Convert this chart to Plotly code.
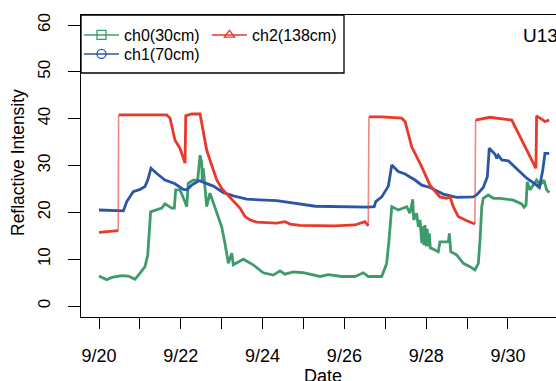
import pandas as pd
import plotly.graph_objects as go

# ---- data (hours since 2015-09-20 00:00, value) ----
ch0_hours = [0, 1.6, 4.5, 7.5, 13.3, 17.2, 21.1, 24.1, 27.0, 28.6, 29.5, 30.3, 36.8, 38.7, 42.7, 44.2,
             45.0, 47.5, 50.1, 51.5, 52.4, 55.3, 57.9, 59.3, 60.3, 60.6, 61.2, 62.2, 63.2, 65.1, 69.1,
             72.0, 73.9, 74.9, 75.9, 77.9, 78.8, 84.7, 90.5, 96.4, 100.3, 102.3, 106.2, 109.1, 114.0,
             119.9, 129.7, 134.6, 142.4, 150.2, 155.1, 158.0, 165.9, 168.8, 170.2, 171.8, 175.6, 180.6,
             182.5, 184.1, 184.7, 186.4, 187.4, 188.4, 189.4, 190.0, 190.6, 191.3, 192.0, 192.6, 193.2,
             193.8, 194.4, 195.2, 199.1, 200.1, 205.0, 205.6, 206.4, 209.9, 213.8, 217.7, 220.6, 222.6,
             223.6, 224.6, 225.5, 228.4, 231.4, 235.3, 243.1, 248.0, 249.4, 250.6, 251.3, 252.9, 256.8,
             258.8, 261.1, 262.7, 264.2]
ch0_values = [6.4, 6.1, 5.6, 6.1, 6.5, 6.4, 5.7, 7.0, 8.4, 10.9, 15.5, 20.1, 20.9, 21.8, 20.9, 20.9,
              24.8, 24.8, 22.6, 21.2, 26.2, 26.9, 26.9, 32.2, 30.5, 26.9, 29.4, 24.8, 21.2, 24.1, 19.8,
              16.9, 13.4, 10.9, 9.1, 11.3, 8.8, 10.0, 8.8, 7.1, 6.8, 6.6, 7.5, 6.8, 7.3,
              7.1, 6.3, 6.7, 6.3, 6.3, 7.1, 6.3, 6.3, 9.1, 14.1, 21.2, 20.5, 21.2,
              19.8, 22.8, 18.4, 19.8, 16.9, 18.4, 13.4, 17.0, 13.0, 17.3, 12.8, 16.5, 12.7,
              15.5, 12.4, 12.3, 11.6, 13.7, 13.7, 15.5, 11.6, 10.9, 9.1, 8.4, 7.7, 9.1,
              14.1, 21.2, 23.0, 23.7, 23.0, 23.0, 22.6, 21.8, 21.1, 21.6, 26.5, 24.8, 26.9,
              25.8, 26.9, 24.8, 24.2]

ch1_hours = [0, 14.3, 16.3, 20.1, 24.1, 27.0, 28.6, 30.5, 33.9, 38.7, 44.6, 49.5, 51.5, 54.4, 58.3,
             59.3, 67.1, 73.0, 78.8, 86.7, 104.3, 118.0, 127.0, 158.0, 161.5, 162.4, 165.9, 169.8,
             171.8, 175.6, 179.6, 185.4, 189.4, 194.2, 202.0, 209.9, 219.6, 221.6, 225.5, 227.9,
             229.0, 232.4, 233.4, 234.3, 236.3, 240.2, 245.1, 251.0, 256.8, 258.4, 260.4, 261.7, 264.2]
ch1_values = [20.5, 20.3, 22.3, 24.4, 24.9, 25.5, 26.9, 29.4, 28.3, 26.9, 26.1, 24.9, 24.8, 25.8, 26.7,
              26.7, 25.6, 24.2, 23.5, 22.8, 22.5, 21.8, 21.3, 21.1, 21.2, 22.3, 23.3, 25.6,
              30.1, 28.7, 28.2, 26.9, 25.8, 25.3, 23.9, 23.2, 23.3, 23.7, 25.3, 27.6,
              33.7, 32.4, 31.5, 32.2, 31.2, 31.0, 29.4, 27.3, 25.8, 25.3, 29.0, 32.6, 32.6]

ch2_hours = [0, 11.3, 11.5, 21.1, 39.7, 41.7, 44.6, 47.5, 50.5, 50.9, 54.4, 59.3, 61.2, 63.2, 66.1,
             69.1, 72.0, 74.9, 78.8, 82.7, 85.7, 88.6, 92.5, 98.4, 104.3, 109.1, 112.1, 118.0, 129.7,
             138.5, 150.2, 156.1, 158.0, 158.4, 165.9, 177.6, 179.6, 183.5, 189.4, 194.2, 197.2,
             200.0, 204.0, 206.0, 207.9, 210.8, 215.8, 220.6, 221.0, 229.4, 242.2, 246.0, 251.0,
             256.4, 256.8, 258.8, 261.7, 264.2]
ch2_values = [15.7, 16.1, 40.8, 40.8, 40.8, 40.1, 35.4, 33.7, 30.5, 40.6, 41.0, 41.0, 37.6, 33.3, 30.1,
              26.9, 25.1, 23.9, 22.3, 20.9, 19.1, 18.4, 17.9, 17.8, 17.7, 18.0, 17.5, 17.2, 17.1,
              17.1, 17.3, 18.0, 17.1, 40.4, 40.4, 40.1, 39.4, 34.0, 29.7, 25.8, 24.4,
              23.3, 23.0, 23.3, 21.2, 19.1, 18.2, 17.5, 39.7, 40.3, 39.7, 36.9, 33.3,
              29.4, 40.6, 40.1, 39.4, 39.7]

series_names = ["ch0(30cm)", "ch1(70cm)", "ch2(138cm)"]
series_colors = ["#3E9C6C", "#2B55A6", "#E8392B"]
series_jump_colors = ["rgba(62,156,108,0.55)", "rgba(43,85,166,0.55)", "rgba(232,57,43,0.6)"]
series_symbols = ["square-open", "circle-open", "triangle-up-open"]
tick_dates = pd.date_range("2015-09-20", "2015-09-30", freq="D")
tick_labels = [d.strftime("%-m/%-d") if i % 2 == 0 else "" for i, d in enumerate(tick_dates)]

base = pd.Timestamp("2015-09-20")


def to_time(hours):
    return [base + pd.Timedelta(hours=h) for h in hours]


fig = go.Figure()
data = [(ch0_hours, ch0_values), (ch1_hours, ch1_values), (ch2_hours, ch2_values)]
for (h, v), name, col, jcol in zip(data, series_names, series_colors, series_jump_colors):
    t = to_time(h)
    main_x, main_y, jump_x, jump_y = [], [], [], []
    for i in range(len(h)):
        main_x.append(t[i])
        main_y.append(v[i])
        if i + 1 < len(h) and (h[i + 1] - h[i]) < 1.0 and abs(v[i + 1] - v[i]) > 15:
            # sudden step: drawn as a thin, lighter segment (as in the original)
            main_x.append(None)
            main_y.append(None)
            jump_x += [t[i], t[i + 1], None]
            jump_y += [v[i], v[i + 1], None]
    fig.add_trace(go.Scatter(x=main_x, y=main_y, mode="lines", name=name,
                             line=dict(color=col, width=2.8), showlegend=False))
    if jump_x:
        fig.add_trace(go.Scatter(x=jump_x, y=jump_y, mode="lines", name=name,
                                 line=dict(color=jcol, width=1.6), showlegend=False))

legend_ids = ["legend", "legend3", "legend2"]
for name, col, sym, lg in zip(series_names, series_colors, series_symbols, legend_ids):
    fig.add_trace(go.Scatter(x=[None], y=[None], mode="lines+markers", name=name,
                             line=dict(color=col, width=1.5),
                             marker=dict(symbol=sym, size=9, color=col, line=dict(width=1.3, color=col)),
                             legend=lg, showlegend=True))

L, T, B = 81, 15, 64
W, H = 556, 381
pw, ph = W - L, H - T - B


def px_x(p):
    return (p - L) / pw


def px_y(p):
    return (H - B - p) / ph


def leg(xp, yp):
    return dict(x=px_x(xp), y=px_y(yp), xanchor="left", yanchor="top",
                bgcolor="rgba(0,0,0,0)", borderwidth=0, font=dict(size=16),
                tracegroupgap=0, itemwidth=35)


font = "Liberation Sans, Arial, Helvetica, sans-serif"
fig.update_layout(
    width=W, height=H,
    margin=dict(l=L, r=0, t=T, b=B, pad=0),
    paper_bgcolor="white", plot_bgcolor="white",
    font=dict(family=font, color="black", size=17),
    xaxis=dict(type="date",
               range=[base + pd.Timedelta(hours=-10.56), base + pd.Timedelta(hours=268.17)],
               tickvals=tick_dates, ticktext=tick_labels,
               ticks="outside", ticklen=11, tickwidth=1.3, tickcolor="black",
               showline=True, linecolor="black", linewidth=1.3, mirror=True,
               showgrid=False, zeroline=False, tickfont=dict(size=18),
               ticklabelstandoff=11),
    yaxis=dict(range=[-2.35, 62.14], tickvals=[0, 10, 20, 30, 40, 50, 60],
               ticks="outside", ticklen=12, tickwidth=1.3, tickcolor="black",
               showline=True, linecolor="black", linewidth=1.3, mirror=False,
               showgrid=False, zeroline=False, tickangle=-90, tickfont=dict(size=17),
               ticklabelstandoff=11),
    legend=leg(79, 18),
    legend3=leg(79, 37),
    legend2=leg(207, 18),
    shapes=[dict(type="rect", xref="paper", yref="paper",
                 x0=0, x1=px_x(344), y0=px_y(73), y1=1,
                 line=dict(color="black", width=1.3), fillcolor="rgba(0,0,0,0)")],
    annotations=[
        dict(text="U13", xref="paper", yref="paper", x=px_x(521), y=px_y(35),
             xanchor="left", yanchor="middle", showarrow=False, font=dict(size=19)),
        dict(text="Date", xref="paper", yref="paper", x=px_x(323), y=px_y(376),
             xanchor="center", yanchor="middle", showarrow=False, font=dict(size=18)),
        dict(text="Reflactive Intensity", xref="paper", yref="paper", x=px_x(18), y=px_y(162),
             xanchor="center", yanchor="middle", textangle=-90, showarrow=False, font=dict(size=17.5)),
    ],
)

fig.write_html("out.html", config={"displayModeBar": False},
               post_script="document.body.style.margin='0';")
